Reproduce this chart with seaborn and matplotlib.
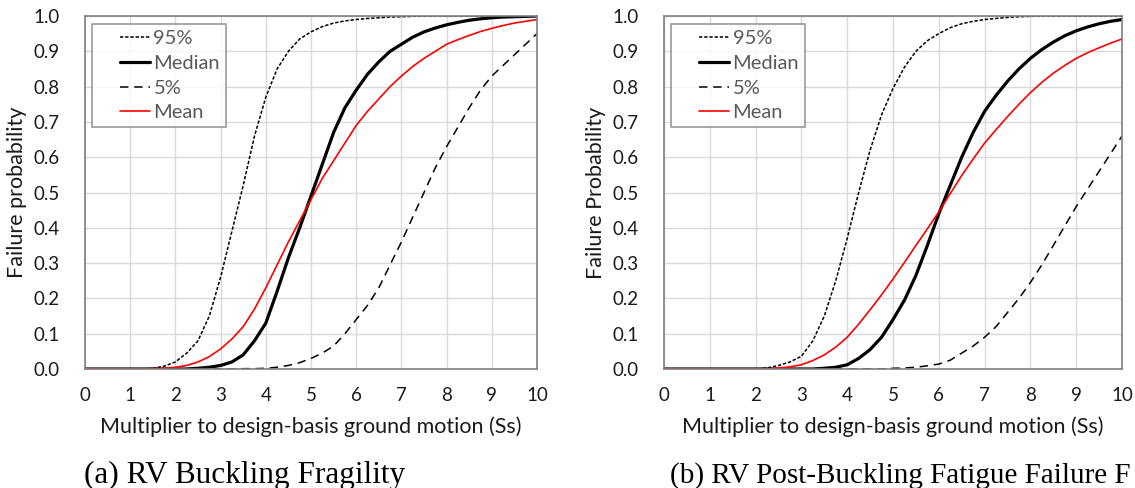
import numpy as np
import pandas as pd
import matplotlib
matplotlib.use("Agg")
import matplotlib.pyplot as plt
from matplotlib.lines import Line2D
from matplotlib.legend_handler import HandlerLine2D
import seaborn as sns

# ---- data (x step 0.25 from 0 to 10) ----
x_grid = [i * 0.25 for i in range(41)]

# (a) RV Buckling Fragility
a_p95 = [0, 0, 0, 0, 0, 0, 0.002, 0.008, 0.02, 0.045, 0.08, 0.15, 0.26, 0.39, 0.52, 0.66,
         0.77, 0.85, 0.90, 0.935, 0.955, 0.97, 0.98, 0.986, 0.99, 0.993, 0.995, 0.997, 0.998, 0.999,
         1, 1, 1, 1, 1, 1, 1, 1, 1, 1, 1]
a_median = [0, 0, 0, 0, 0, 0, 0, 0, 0, 0, 0.002, 0.005, 0.01, 0.02, 0.04, 0.08,
            0.13, 0.22, 0.315, 0.40, 0.49, 0.58, 0.67, 0.74, 0.79, 0.835, 0.87, 0.90, 0.92, 0.94,
            0.955, 0.966, 0.975, 0.982, 0.988, 0.992, 0.995, 0.997, 0.998, 0.999, 1.0]
a_p5 = [0, 0, 0, 0, 0, 0, 0, 0, 0, 0, 0, 0, 0, 0, 0.001, 0.001,
        0.002, 0.005, 0.01, 0.018, 0.03, 0.045, 0.065, 0.10, 0.14, 0.18, 0.23, 0.295, 0.36, 0.43,
        0.50, 0.57, 0.63, 0.685, 0.74, 0.79, 0.83, 0.86, 0.89, 0.92, 0.95]
a_mean = [0, 0, 0, 0, 0, 0, 0.001, 0.002, 0.005, 0.01, 0.02, 0.035, 0.057, 0.085, 0.12, 0.17,
          0.23, 0.295, 0.36, 0.42, 0.48, 0.54, 0.59, 0.64, 0.69, 0.73, 0.765, 0.80, 0.83, 0.857,
          0.88, 0.90, 0.92, 0.933, 0.945, 0.956, 0.965, 0.973, 0.98, 0.985, 0.99]

# (b) RV Post-Buckling Fatigue Failure
b_p95 = [0, 0, 0, 0, 0, 0, 0, 0, 0, 0.003, 0.01, 0.02, 0.036, 0.08, 0.15, 0.25,
         0.37, 0.50, 0.62, 0.72, 0.795, 0.855, 0.90, 0.93, 0.95, 0.967, 0.978, 0.985, 0.99, 0.993,
         0.996, 0.998, 0.999, 1, 1, 1, 1, 1, 1, 1, 1]
b_median = [0, 0, 0, 0, 0, 0, 0, 0, 0, 0, 0, 0, 0, 0, 0.002, 0.005,
            0.012, 0.03, 0.055, 0.09, 0.14, 0.195, 0.265, 0.35, 0.44, 0.52, 0.60, 0.67, 0.73, 0.775,
            0.815, 0.85, 0.88, 0.905, 0.926, 0.944, 0.958, 0.969, 0.978, 0.985, 0.99]
b_p5 = [0, 0, 0, 0, 0, 0, 0, 0, 0, 0, 0, 0, 0, 0, 0, 0,
        0, 0, 0, 0, 0.002, 0.003, 0.005, 0.009, 0.014, 0.025, 0.045, 0.065, 0.09, 0.12,
        0.16, 0.20, 0.245, 0.295, 0.35, 0.405, 0.46, 0.51, 0.56, 0.61, 0.66]
b_mean = [0, 0, 0, 0, 0, 0, 0, 0, 0, 0, 0.003, 0.006, 0.012, 0.024, 0.04, 0.062,
          0.09, 0.127, 0.168, 0.21, 0.255, 0.302, 0.35, 0.397, 0.445, 0.497, 0.548, 0.595, 0.64, 0.678,
          0.715, 0.75, 0.783, 0.812, 0.838, 0.86, 0.88, 0.896, 0.91, 0.923, 0.935]

series_names = ["95%", "Median", "5%", "Mean"]
x_ticks = list(range(0, 11))
y_ticks = [round(0.1 * i, 1) for i in range(11)]
y_labels = ["Failure probability", "Failure Probability"]
captions = ["(a) RV Buckling Fragility", "(b) RV Post-Buckling Fatigue Failure F"]

panels = [[a_p95, a_median, a_p5, a_mean], [b_p95, b_median, b_p5, b_mean]]

styles = {
    "95%":    dict(color="black", lw=1.1, dashes=(2.2, 1.2)),
    "Median": dict(color="black", lw=2.3, dashes=None),
    "5%":     dict(color="black", lw=1.1, dashes=(5.5, 3.8)),
    "Mean":   dict(color="#ff0000", lw=1.2, dashes=None),
}


class ShiftedLineHandler(HandlerLine2D):
    """Excel-style legend key: blank space on the left, short line on the right."""
    frac = 0.58

    def create_artists(self, legend, orig_handle, xdescent, ydescent, width, height, fontsize, trans):
        arts = super().create_artists(legend, orig_handle, xdescent, ydescent, width, height, fontsize, trans)
        for a in arts:
            if isinstance(a, Line2D):
                xd = np.asarray(a.get_xdata(), dtype=float)
                x0, x1 = xd.min(), xd.max()
                a.set_xdata(np.linspace(x1 - (x1 - x0) * self.frac, x1, len(xd)))
        return arts


sns.set_theme(style="white")
plt.rcParams["font.family"] = ["Lato", "DejaVu Sans"]

fig = plt.figure(figsize=(11.35, 4.88), dpi=100)
W, H = 1135, 488
positions = [[85 / W, 1 - 369 / H, 452 / W, 353 / H],
             [664 / W, 1 - 369 / H, 458 / W, 353 / H]]
caption_x = [84 / W, 670 / W]
caption_size = [22.5, 21]

for ys, ylab, cap, pos, cx, cs in zip(panels, y_labels, captions, positions, caption_x, caption_size):
    ax = fig.add_axes(pos)
    for name, yv in zip(series_names, ys):
        st = styles[name]
        df = pd.DataFrame({"x": x_grid, "y": yv})
        sns.lineplot(data=df, x="x", y="y", ax=ax, color=st["color"], lw=st["lw"], label=name)
        if st["dashes"] is not None:
            ax.get_lines()[-1].set_dashes(st["dashes"])
    ax.set_xlim(0, 10)
    ax.set_ylim(0, 1.0)
    ax.set_xticks(x_ticks)
    ax.set_yticks(y_ticks)
    ax.set_yticklabels([f"{v:.1f}" for v in y_ticks])
    ax.grid(True, color="#d9d9d9", lw=1.0)
    ax.set_axisbelow(True)
    for s in ax.spines.values():
        s.set_color("#808080")
        s.set_linewidth(1.2)
    ax.tick_params(axis="both", labelsize=13.5, colors="#1a1a1a", length=0)
    ax.tick_params(axis="y", pad=18)
    ax.tick_params(axis="x", pad=13)
    ax.set_xlabel("Multiplier to design-basis ground motion (Ss)", fontsize=15.5, color="#1a1a1a")
    ax.set_ylabel(ylab, fontsize=15.5, color="#1a1a1a")
    ax.xaxis.set_label_coords(0.5, -0.164)
    ax.xaxis.label.set_va("center")
    ax.yaxis.set_label_coords(-68 / pos[2] / W, 0.5)
    ax.yaxis.label.set_va("center")
    leg = ax.legend(loc="upper left", bbox_to_anchor=(7 / 452, 1 - 8 / 353), frameon=True, fancybox=False,
                    fontsize=14.5, handlelength=2.6, handletextpad=0.15, borderpad=0.3,
                    labelspacing=0.38, borderaxespad=0,
                    handler_map={Line2D: ShiftedLineHandler()})
    leg.get_frame().set_edgecolor("#808080")
    leg.get_frame().set_linewidth(1.2)
    for t in leg.get_texts():
        t.set_color("#595959")
    fig.text(cx, 5 / H, cap, fontsize=cs, family="Liberation Serif", ha="left", va="baseline",
             color="black")

fig.savefig("out.png", dpi=100, facecolor="white")
